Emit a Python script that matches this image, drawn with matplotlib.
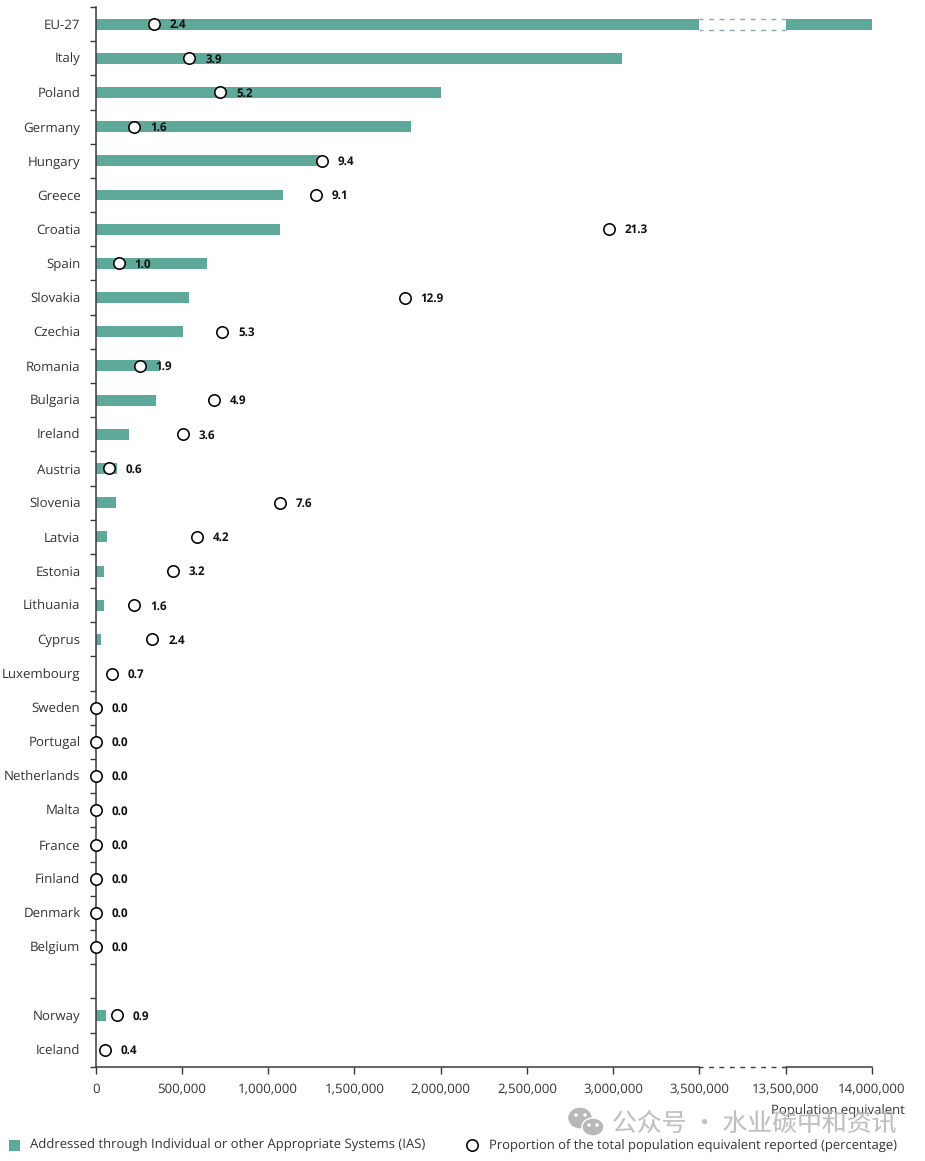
import matplotlib
matplotlib.use('Agg')
import matplotlib.pyplot as plt
import numpy as np
from matplotlib.lines import Line2D
from matplotlib.patches import Ellipse, Rectangle

plt.rcParams['font.family'] = ['Open Sans', 'DejaVu Sans']
plt.rcParams['text.hinting'] = 'no_hinting'

countries = ['EU-27', 'Italy', 'Poland', 'Germany', 'Hungary', 'Greece', 'Croatia', 'Spain',
             'Slovakia', 'Czechia', 'Romania', 'Bulgaria', 'Ireland', 'Austria', 'Slovenia',
             'Latvia', 'Estonia', 'Lithuania', 'Cyprus', 'Luxembourg', 'Sweden', 'Portugal',
             'Netherlands', 'Malta', 'France', 'Finland', 'Denmark', 'Belgium', '', 'Norway', 'Iceland']

# population equivalent addressed through IAS
ias_values = [14000000, 3053000, 2000000, 1825000, 1300000, 1085000, 1066000, 643000,
              540000, 505000, 375000, 350000, 193000, 122000, 118000,
              65000, 48000, 48000, 30000, 4000, 0, 0,
              0, 0, 0, 0, 0, 0, 0, 60000, 3000]

# circle positions (the labels below are rounded)
percent = [2.41, 3.88, 5.17, 1.6, 9.39, 9.14, 21.3, 0.95,
           12.83, 5.25, 1.83, 4.92, 3.61, 0.56, 7.64,
           4.21, 3.2, 1.6, 2.35, 0.66, 0.0, 0.0,
           0.0, 0.0, 0.0, 0.0, 0.0, 0.0, None, 0.87, 0.37]

percent_labels = ['2.4', '3.9', '5.2', '1.6', '9.4', '9.1', '21.3', '1.0',
                  '12.9', '5.3', '1.9', '4.9', '3.6', '0.6', '7.6',
                  '4.2', '3.2', '1.6', '2.4', '0.7', '0.0', '0.0',
                  '0.0', '0.0', '0.0', '0.0', '0.0', '0.0', '', '0.9', '0.4']

x_ticks = [0, 500000, 1000000, 1500000, 2000000, 2500000, 3000000, 3500000, 13500000, 14000000]
break_from = 3500000
break_to = 13500000

GREEN = '#5fa99b'
DARK = '#3a3a3a'
W, H = 925, 1161


def px(x, y):
    # reference pixels to figure fraction
    return x / W, 1 - y / H


# broken x axis: 3.5M to 13.5M gets squeezed in the width of 500k
knots_in = [-1e6, 0, break_from, break_to, 14000000, 15000000]
knots_out = [-1e6, 0, 3500000, 4000000, 4500000, 5500000]


def squeeze(v):
    return np.interp(v, knots_in, knots_out)


def unsqueeze(v):
    return np.interp(v, knots_out, knots_in)


fig = plt.figure(figsize=(W / 100, H / 100), dpi=100)
ax = fig.add_axes([95.7 / W, 1 - 1066.7 / H, (872 - 95.7) / W, (1066.7 - 7) / H])
ax.set_xscale('function', functions=(squeeze, unsqueeze))
ax.set_xlim(0, 14000000)
ax.set_ylim(len(countries) - 0.5, -0.5)

rows = np.arange(len(countries))
ax.barh(rows, ias_values, height=0.32, color=GREEN, zorder=2)

# gap in the EU-27 bar
ax.barh(0, break_to - break_from, left=break_from, height=0.34, color='white', zorder=3)
for edge in (-0.16, 0.16):
    ax.plot([break_from, break_to], [edge, edge], color='#8aa6b0', lw=1, ls=(0.6, (3.5, 4)), zorder=4)

for s in ['top', 'right', 'bottom']:
    ax.spines[s].set_visible(False)
ax.spines['left'].set_color(DARK)
ax.spines['left'].set_linewidth(1.1)

# bottom axis line drawn by hand so the broken part can be dashed
bottom = len(countries) - 0.5
ax.plot([0, break_from], [bottom, bottom], color=DARK, lw=1.1, clip_on=False, zorder=5)
ax.plot([break_to, 14000000], [bottom, bottom], color=DARK, lw=1.1, clip_on=False, zorder=5)
ax.plot([break_from, break_to], [bottom, bottom], color=DARK, lw=1, ls=(0.6, (3.5, 4)), clip_on=False, zorder=5)

ax.set_xticks(x_ticks)
ax.set_xticklabels([f'{t:,}' for t in x_ticks])
ax.tick_params(axis='x', which='major', length=5, width=1, color=DARK, labelsize=9.5, labelcolor='#333333', pad=7)
ax.tick_params(axis='x', which='minor', bottom=False)

ax.set_yticks(rows)
ax.set_yticklabels(countries, va='center_baseline')
ax.set_yticks(np.arange(len(countries) + 1) - 0.5, minor=True)
ax.tick_params(axis='y', which='major', length=0, labelsize=9.5, labelcolor='#333333', pad=11)
ax.tick_params(axis='y', which='minor', length=4.5, width=1, color=DARK)

# percentage circles have their own hidden scale on top
ax2 = ax.twiny()
ax2.set_xlim(0, 32.23)
ax2.axis('off')
for i, p in enumerate(percent):
    if p is None:
        continue
    ax2.plot(p, i, 'o', ms=8.2, mfc='white', mec='black', mew=1.15, clip_on=False, zorder=6)
    ax2.annotate(percent_labels[i], (p, i), xytext=(11.5, 0.3), textcoords='offset points', va='center_baseline',
                 ha='left', fontsize=8.4, fontweight='bold', color='#111111', zorder=7)

x, y = px(905, 1111)
fig.text(x, y, 'Population equivalent', ha='right', va='center', fontsize=9.43, color='#333333')

# watermark
x, y = px(612, 1124)
fig.text(x, y, '公众号 · 水业碳中和资讯', ha='left', va='center', fontsize=17.9, color='#b5b5b5', alpha=0.85,
         family=['Noto Sans CJK SC', 'DejaVu Sans'])
for cx, cy, w, h in [(580, 1118, 25, 22), (593, 1127, 22, 18)]:
    x, y = px(cx, cy)
    fig.add_artist(Ellipse((x, y), w / W, h / H, transform=fig.transFigure, fc='#b8b8b8', ec='white', lw=1))
for cx, cy in [(576, 1115), (585, 1115), (589, 1125), (597, 1125)]:
    x, y = px(cx, cy)
    fig.add_artist(Ellipse((x, y), 3.5 / W, 3.5 / H, transform=fig.transFigure, fc='white', ec='none'))

# legend
x, y = px(9, 1140)
fig.add_artist(Rectangle((x, y - 11 / H), 11 / W, 11 / H, transform=fig.transFigure, fc=GREEN, ec='none'))
x, y = px(30, 1146)
fig.text(x, y, 'Addressed through Individual or other Appropriate Systems (IAS)', va='center', fontsize=9.42, color='#333333')
x, y = px(472, 1145)
fig.add_artist(Line2D([x], [y], marker='o', ms=8.2, mfc='white', mec='black', mew=1.15, transform=fig.transFigure))
x, y = px(489, 1146)
fig.text(x, y, 'Proportion of the total population equivalent reported (percentage)', va='center', fontsize=9.4, color='#333333')

fig.savefig('out.png', dpi=100)
